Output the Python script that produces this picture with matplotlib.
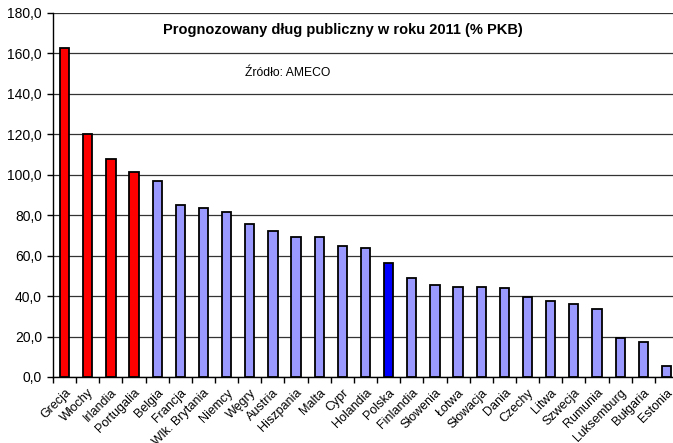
import matplotlib
matplotlib.use("Agg")
import matplotlib.pyplot as plt
import numpy as np

plt.rcParams["font.family"] = ["Liberation Sans", "DejaVu Sans"]

countries = [
    "Grecja", "Włochy", "Irlandia", "Portugalia", "Belgia", "Francja",
    "Wlk. Brytania", "Niemcy", "Węgry", "Austria", "Hiszpania", "Malta",
    "Cypr", "Holandia", "Polska", "Finlandia", "Słowenia", "Łotwa",
    "Słowacja", "Dania", "Czechy", "Litwa", "Szwecja", "Rumunia",
    "Luksemburg", "Bułgaria", "Estonia",
]
debt = [
    162.6, 120.3, 107.8, 101.4, 97.1, 85.2,
    83.7, 81.4, 75.8, 72.0, 69.4, 69.4,
    64.7, 64.0, 56.5, 49.0, 45.3, 44.7,
    44.4, 43.9, 39.6, 37.6, 36.1, 33.8,
    19.5, 17.3, 5.6,
]
red_group = ["Grecja", "Włochy", "Irlandia", "Portugalia"]
highlight = "Polska"

colors = []
for c in countries:
    if c in red_group:
        colors.append("#FF0000")
    elif c == highlight:
        colors.append("#0000FF")
    else:
        colors.append("#9999FF")

fig = plt.figure(figsize=(6.73, 4.43), dpi=100)
# plot area runs a little past the right edge of the image
ax = fig.add_axes([53 / 673, 1 - 377 / 443, 625 / 673, 364 / 443])

x = np.arange(len(countries))
ax.bar(x, debt, width=0.4, color=colors, edgecolor="black", linewidth=1.3, zorder=3)

ax.set_xlim(-0.5, len(countries) - 0.5)
ax.set_ylim(0, 180)
ax.set_yticks(np.arange(0, 181, 20))
ax.set_yticklabels([f"{v:.1f}".replace(".", ",") for v in np.arange(0, 181, 20)], fontsize=10)
ax.yaxis.grid(True, color="#333333", linewidth=0.9, zorder=0)

ax.set_xticks(x)
ax.set_xticklabels(countries, rotation=45, ha="right", rotation_mode="anchor", fontsize=9)
ax.set_xticks(np.arange(-0.5, len(countries), 1), minor=True)
ax.tick_params(axis="x", which="major", length=0, pad=7)
ax.tick_params(axis="x", which="minor", length=4, direction="out", width=1)
ax.tick_params(axis="y", length=4, direction="out", width=1, pad=4)

for side in ["top", "right"]:
    ax.spines[side].set_visible(False)
ax.spines["left"].set_linewidth(1)
ax.spines["bottom"].set_linewidth(1)

fig.text(343 / 673, 1 - 30 / 443, "Prognozowany dług publiczny w roku 2011 (% PKB)",
         ha="center", va="center", fontsize=10.5, fontweight="bold")
fig.text(245 / 673, 1 - 73 / 443, "Źródło: AMECO", ha="left", va="center", fontsize=8.7)

fig.savefig("out.png", dpi=100)
